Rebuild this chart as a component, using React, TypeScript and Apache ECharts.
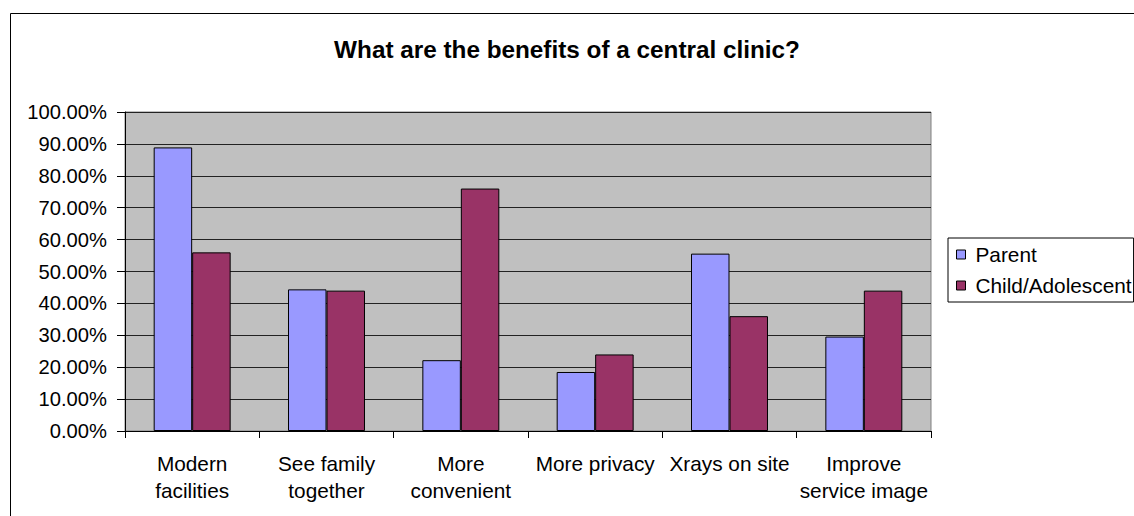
import React, { useEffect, useRef } from "react";
import * as echarts from "echarts";

const categories = [
  "Modern\nfacilities",
  "See family\ntogether",
  "More\nconvenient",
  "More privacy",
  "Xrays on site",
  "Improve\nservice image",
];
const parentValues = [0.889, 0.444, 0.222, 0.185, 0.556, 0.296];
const childValues = [0.56, 0.44, 0.76, 0.24, 0.36, 0.44];
const seriesNames = ["Parent", "Child/Adolescent"];
const titleText = "What are the benefits of a central clinic?";

const FONT = "'Liberation Sans', Arial, sans-serif";

export default function App() {
  const ref = useRef<HTMLDivElement>(null);
  useEffect(() => {
    if (!ref.current) return;
    const chart = echarts.init(ref.current, undefined, { renderer: "svg" });
    chart.setOption({
      animation: false,
      backgroundColor: "#ffffff",
      textStyle: { fontFamily: FONT },
      title: {
        text: titleText,
        left: "center",
        top: 32,
        textStyle: { fontFamily: FONT, fontSize: 24.3, fontWeight: "bold", color: "#000" },
      },
      graphic: [
        {
          type: "rect",
          left: 8,
          top: 11,
          shape: { width: 1200, height: 600 },
          style: { fill: "none", stroke: "#000", lineWidth: 1 },
          silent: true,
        },
      ],
      legend: {
        orient: "vertical",
        left: 948,
        top: 238,
        padding: [6, 2, 6, 8],
        itemGap: 10,
        itemWidth: 9,
        itemHeight: 9,
        icon: "rect",
        backgroundColor: "#fff",
        borderColor: "#000",
        borderWidth: 1,
        textStyle: { fontFamily: FONT, fontSize: 20.8, color: "#000", padding: [0, 0, 0, 5] },
        itemStyle: { borderColor: "#000", borderWidth: 1 },
        data: seriesNames,
      },
      grid: {
        left: 125,
        right: 203,
        top: 112,
        bottom: 85,
        show: true,
        backgroundColor: "#C0C0C0",
        borderColor: "#808080",
        borderWidth: 1,
        containLabel: false,
      },
      xAxis: {
        type: "category",
        data: categories,
        axisLine: { lineStyle: { color: "#000", width: 1 } },
        axisTick: { show: true, length: 7, lineStyle: { color: "#000" } },
        axisLabel: {
          interval: 0,
          fontFamily: FONT,
          fontSize: 20.8,
          lineHeight: 27,
          color: "#000",
          margin: 19,
        },
      },
      yAxis: {
        type: "value",
        min: 0,
        max: 1,
        interval: 0.1,
        axisLine: { show: true, lineStyle: { color: "#000", width: 1 } },
        axisTick: { show: true, length: 8, lineStyle: { color: "#000" } },
        axisLabel: {
          fontFamily: FONT,
          fontSize: 20.2,
          color: "#000",
          margin: 18,
          formatter: (v: number) => (v * 100).toFixed(2) + "%",
        },
        splitLine: { show: true, lineStyle: { color: "#222", width: 1 } },
      },
      series: [
        {
          name: seriesNames[0],
          type: "bar",
          data: parentValues,
          barGap: "0%",
          barCategoryGap: "42.7%",
          itemStyle: { color: "#9999FF", borderColor: "#000", borderWidth: 1 },
        },
        {
          name: seriesNames[1],
          type: "bar",
          data: childValues,
          barGap: "0%",
          barCategoryGap: "42.7%",
          itemStyle: { color: "#993366", borderColor: "#000", borderWidth: 1 },
        },
      ],
    });
    return () => chart.dispose();
  }, []);
  return (
    <div
      ref={ref}
      style={{ position: "fixed", left: 0, top: 0, width: 1134, height: 516 }}
    />
  );
}
